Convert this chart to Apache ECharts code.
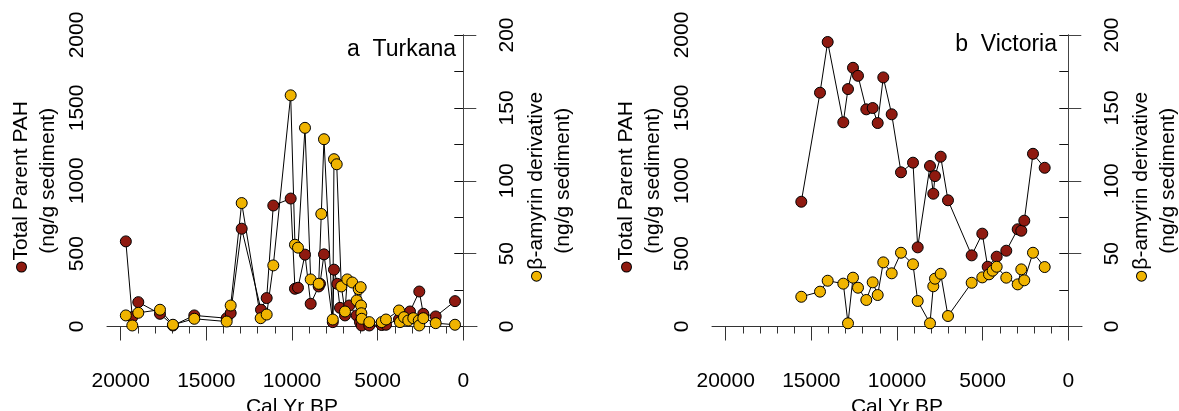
<!DOCTYPE html>
<html>
<head>
<meta charset="utf-8">
<script src="https://cdn.jsdelivr.net/npm/echarts@6/dist/echarts.min.js"></script>
<style>
  html, body { margin: 0; padding: 0; background: #fff; }
  #chart { width: 1179px; height: 411px; }
</style>
</head>
<body>
<div id="chart"></div>
<script>
// Lake Turkana: total parent PAH (ng/g) and beta-amyrin derivative (ng/g) vs calibrated age
const turkanaPahAge = [19700, 19324, 18973, 17707, 16950, 15704, 13813, 13580, 12937, 11810, 11478, 11092, 10077, 9826, 9650, 9242, 8909, 8442, 8366, 8132, 7620, 7549, 7355, 7198, 6906, 6655, 6223, 6030, 5932, 5488, 4764, 4513, 3754, 3462, 3112, 2569, 2335, 1611, 485];
const turkanaPah    = [584, 64, 167, 87, 7, 76, 57, 92, 671, 115, 195, 830, 878, 259, 266, 493, 156, 275, 293, 495, 30, 390, 293, 128, 76, 144, 76, 30, 7, 7, 10, 12, 50, 55, 103, 240, 87, 69, 174];
const turkanaAmyAge = [19700, 19324, 18973, 17707, 16950, 15704, 13813, 13580, 12937, 11829, 11478, 11092, 10077, 9826, 9650, 9242, 8909, 8442, 8290, 8132, 7620, 7549, 7390, 7122, 6906, 6772, 6480, 6223, 6106, 5990, 5970, 5951, 5930, 5488, 4764, 4513, 3754, 3696, 3462, 3211, 2919, 2600, 2569, 2335, 1611, 485];
const turkanaAmy    = [7.6, 0.7, 9.4, 11.5, 1.2, 5.3, 3.4, 14.4, 84.7, 5.7, 8.2, 41.9, 158.6, 56.1, 54.1, 136.3, 32.3, 29.3, 77.2, 128.5, 4.8, 114.8, 111.3, 27.5, 10.3, 32.3, 30.2, 17.9, 25.6, 27.0, 14.4, 9.1, 5.3, 3.0, 3.0, 4.8, 11.0, 3.0, 6.4, 4.1, 5.7, 4.1, 0.7, 5.7, 2.3, 1.2];

// Lake Victoria
const victoriaPahAge = [15587, 14495, 14047, 13135, 12861, 12569, 12277, 11792, 11419, 11127, 10800, 10310, 9767, 9066, 8792, 8074, 7881, 7782, 7449, 7023, 5640, 5021, 4706, 4181, 3620, 2954, 2744, 2569, 2061, 1378];
const victoriaPah    = [856, 1604, 1952, 1401, 1629, 1775, 1720, 1490, 1499, 1396, 1709, 1456, 1058, 1124, 543, 1101, 911, 1032, 1165, 866, 488, 637, 410, 479, 520, 667, 657, 726, 1185, 1089];
const victoriaAmyAge = [15587, 14495, 14047, 13135, 12861, 12569, 12277, 11792, 11419, 11127, 10800, 10310, 9767, 9066, 8792, 8074, 7881, 7782, 7449, 7023, 5640, 5021, 4630, 4415, 4181, 3620, 2954, 2744, 2569, 2061, 1378];
const victoriaAmy    = [20.4, 23.9, 31.4, 29.4, 2.2, 33.5, 26.6, 18.2, 30.3, 21.6, 44.0, 36.5, 50.6, 42.7, 17.5, 2.2, 27.6, 32.8, 36.2, 7.2, 30.0, 33.7, 35.8, 38.3, 41.0, 33.5, 28.9, 39.2, 31.7, 50.6, 40.8];

// Axis ticks
const ageMajorTicks = [0, 5000, 10000, 15000, 20000];
const ageMinorTicks = [0, 1000, 2000, 3000, 4000, 5000, 6000, 7000, 8000, 9000, 10000, 11000, 12000, 13000, 14000, 15000, 16000, 17000, 18000, 19000, 20000];

const panelTitles = ['a  Turkana', 'b  Victoria'];
const xTitle = 'Cal Yr BP';
const pahTitle = ['Total Parent PAH', '(ng/g sediment)'];
const amyTitle = ['\u03b2-amyrin derivative', '(ng/g sediment)'];

const RED = '#8f1a10';
const GOLD = '#f0b400';
const FONT = '"Liberation Sans", Arial, Helvetica, sans-serif';

const zip = (xs, ys) => xs.map((x, i) => [x, ys[i]]);

const panels = [
  { left: 107, pahAge: turkanaPahAge, pah: turkanaPah, amyAge: turkanaAmyAge, amy: turkanaAmy },
  { left: 712, pahAge: victoriaPahAge, pah: victoriaPah, amyAge: victoriaAmyAge, amy: victoriaAmy }
];

const grids = [], xAxes = [], yAxes = [], series = [];

function dotRich(color) {
  return {
    t: { fontSize: 21, fontFamily: FONT, color: '#000', lineHeight: 27 },
    dot: { width: 9, height: 9, borderRadius: 5, backgroundColor: color, borderColor: '#000', borderWidth: 1 },
    g: { width: 2 },
    sp: { width: 11 }
  };
}

panels.forEach((p, i) => {
  grids.push({ left: p.left, top: 35, width: 370, height: 291.5, outerBoundsMode: 'none', containLabel: false });

  // age axis with labelled major ticks
  xAxes.push({
    gridIndex: i, type: 'value', min: -800, max: 20800, inverse: true,
    position: 'bottom', offset: 19,
    axisLine: { show: true, lineStyle: { color: '#333', width: 1 } },
    axisTick: { show: true, customValues: ageMajorTicks, length: 14, lineStyle: { color: '#333', width: 1 } },
    axisLabel: { show: true, customValues: ageMajorTicks, fontSize: 21, fontFamily: FONT, color: '#000', margin: 25,
      formatter: v => String(v) },
    splitLine: { show: false },
    name: xTitle, nameLocation: 'middle', nameGap: 49,
    nameTextStyle: { fontSize: 21, fontFamily: FONT, color: '#000' }
  });
  // minor ticks every 1000 years
  xAxes.push({
    gridIndex: i, type: 'value', min: -800, max: 20800, inverse: true,
    position: 'bottom', offset: 19,
    axisLine: { show: false },
    axisTick: { show: true, customValues: ageMinorTicks, length: 7, lineStyle: { color: '#333', width: 1 } },
    axisLabel: { show: false },
    splitLine: { show: false }
  });

  yAxes.push({
    gridIndex: i, type: 'value', position: 'left', min: 0, max: 2000, interval: 250,
    axisLine: { show: true, lineStyle: { color: '#111', width: 1 } },
    axisTick: { show: true, length: 9, lineStyle: { color: '#111', width: 1 } },
    axisLabel: {
      rotate: 90, fontSize: 21, fontFamily: FONT, color: '#000', margin: 19,
      formatter: v => (v % 500 === 0 ? String(v) : '')
    },
    splitLine: { show: false },
    name: '{dot|}{g|}{t|' + pahTitle[0] + '}{sp|}\n{t|' + pahTitle[1] + '}',
    nameLocation: 'middle', nameRotate: 90, nameGap: 45,
    nameTextStyle: { rich: dotRich(RED), lineHeight: 27 }
  });
  yAxes.push({
    gridIndex: i, type: 'value', position: 'right', min: 0, max: 200, interval: 50,
    axisLine: { show: true, lineStyle: { color: '#444', width: 1 } },
    axisTick: { show: true, length: 13, lineStyle: { color: '#444', width: 1 } },
    axisLabel: { rotate: 90, fontSize: 21, fontFamily: FONT, color: '#000', margin: 20,
      formatter: v => String(v) },
    splitLine: { show: false },
    name: '{dot|}{g|}{t|' + amyTitle[0] + '}{sp|}\n{t|' + amyTitle[1] + '}',
    nameLocation: 'middle', nameRotate: 90, nameGap: 46,
    nameTextStyle: { rich: dotRich(GOLD), lineHeight: 27 }
  });

  const common = {
    type: 'line', symbol: 'circle', symbolSize: 11, clip: false,
    lineStyle: { color: '#000', width: 1 },
    emphasis: { disabled: true }, silent: true
  };
  series.push(Object.assign({}, common, {
    name: 'PAH', xAxisIndex: i * 2, yAxisIndex: i * 2,
    data: zip(p.pahAge, p.pah),
    itemStyle: { color: RED, borderColor: '#000', borderWidth: 1 }
  }));
  series.push(Object.assign({}, common, {
    name: 'amyrin', xAxisIndex: i * 2, yAxisIndex: i * 2 + 1,
    data: zip(p.amyAge, p.amy),
    itemStyle: { color: GOLD, borderColor: '#000', borderWidth: 1 }
  }));
});

const chart = echarts.init(document.getElementById('chart'), null, { renderer: 'canvas' });
chart.setOption({
  animation: false,
  backgroundColor: '#fff',
  textStyle: { fontFamily: FONT },
  title: [
    { text: panelTitles[0], right: 1179 - 456, top: 38, padding: 0,
      textStyle: { fontSize: 23, fontWeight: 'normal', color: '#000', fontFamily: FONT } },
    { text: panelTitles[1], right: 1179 - 1057, top: 33, padding: 0,
      textStyle: { fontSize: 23, fontWeight: 'normal', color: '#000', fontFamily: FONT } }
  ],
  grid: grids,
  xAxis: xAxes,
  yAxis: yAxes,
  series: series
});
</script>
</body>
</html>
